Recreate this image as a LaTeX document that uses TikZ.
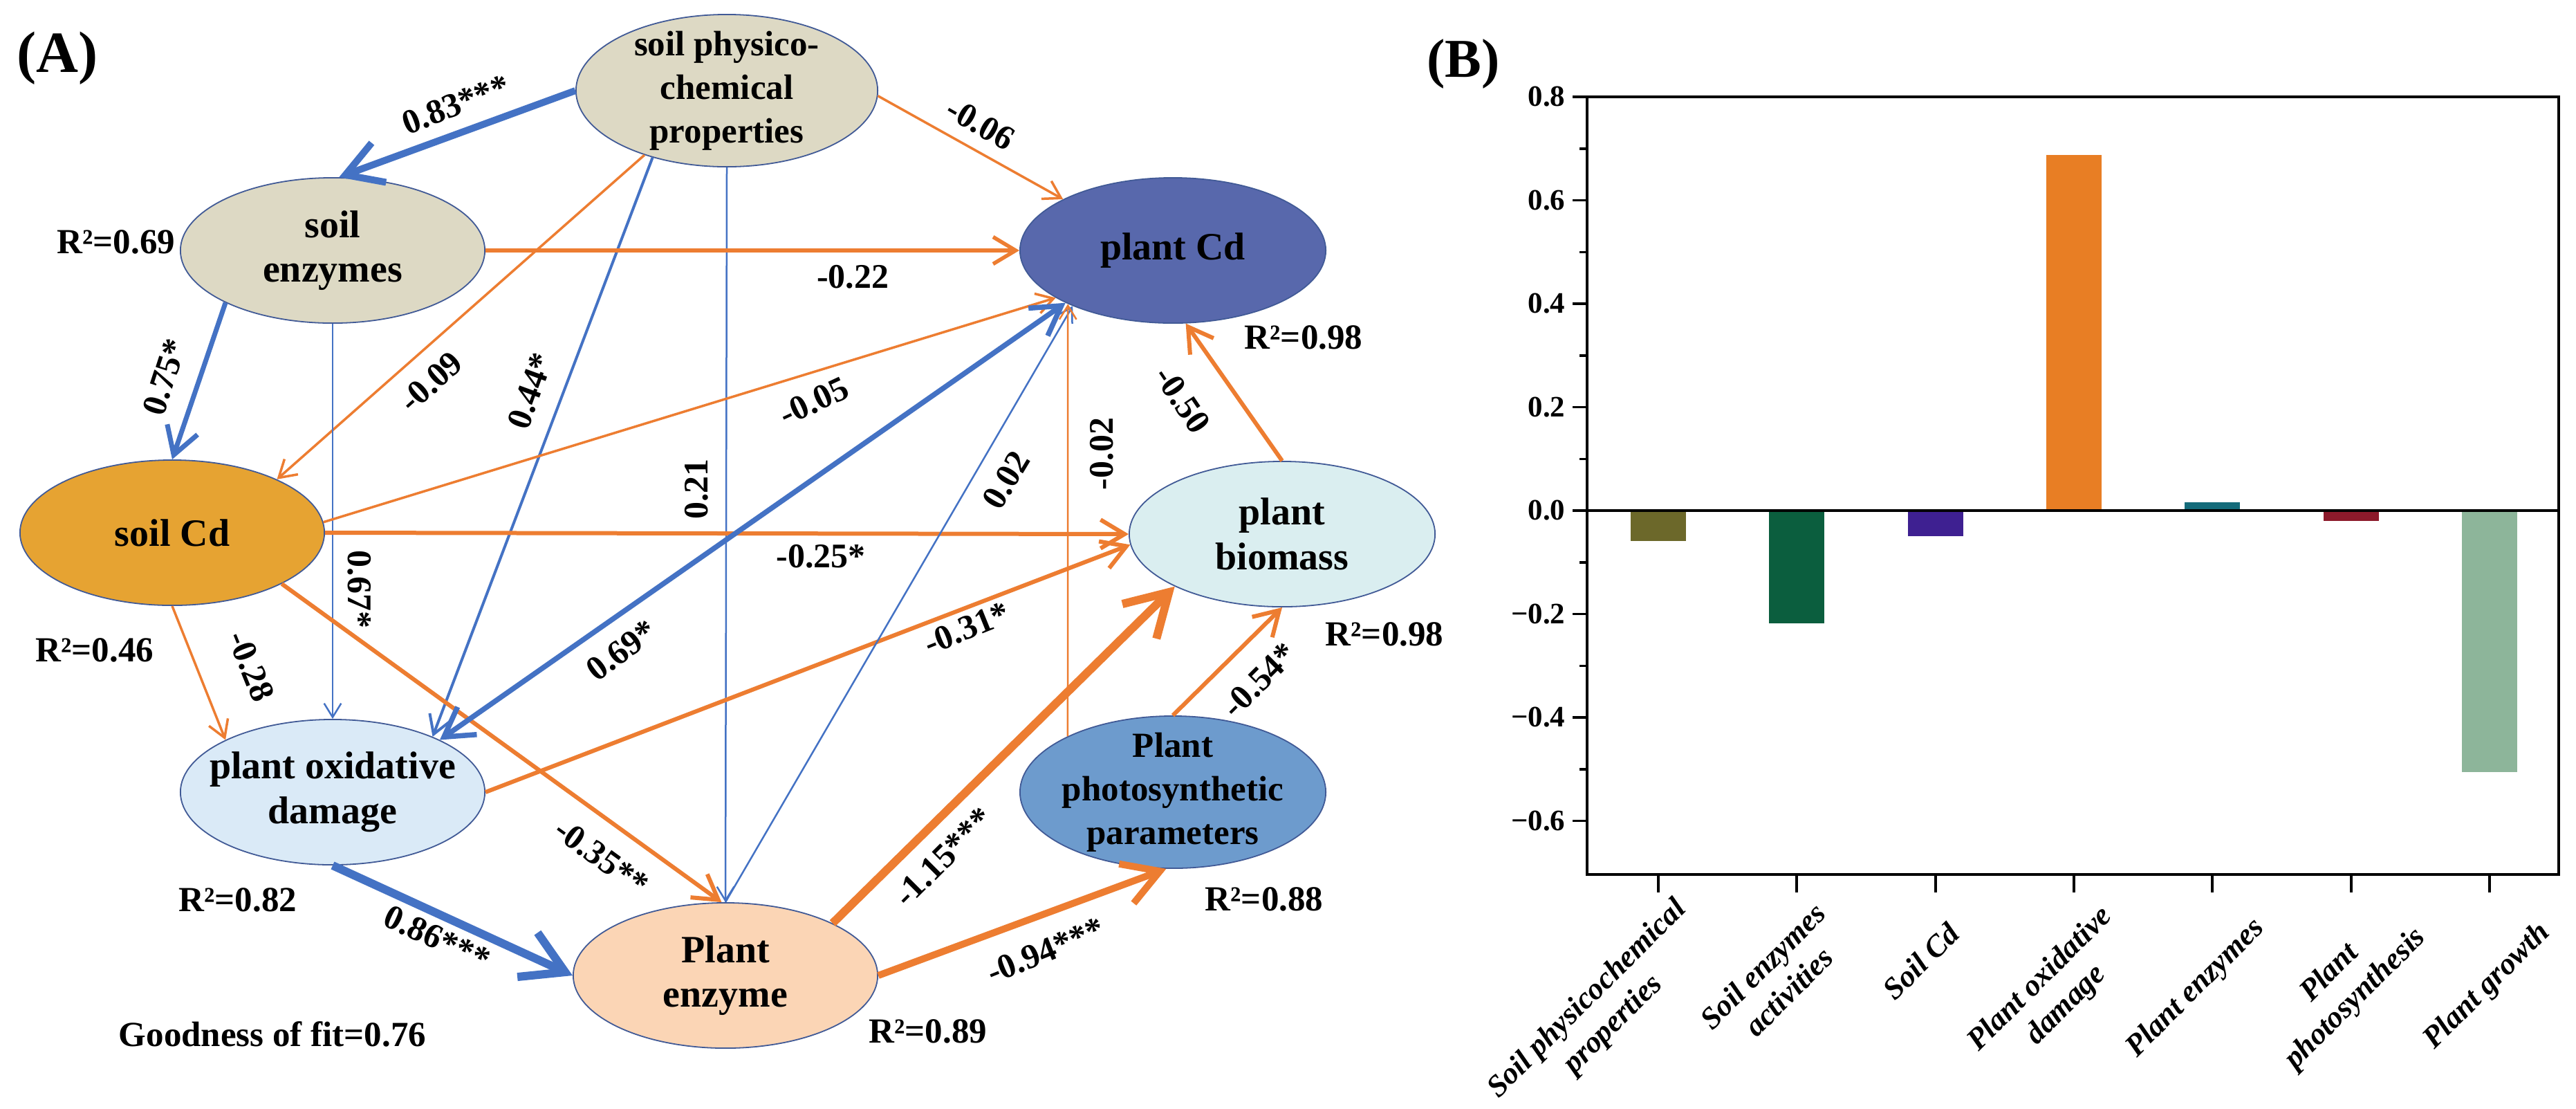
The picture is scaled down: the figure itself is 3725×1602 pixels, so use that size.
\documentclass[tikz,border=0pt]{standalone}
\usepackage{fontspec}
\setmainfont{Liberation Serif}
\usetikzlibrary{shapes.geometric,arrows.meta}
\definecolor{myblue}{RGB}{68,114,196}
\definecolor{myorange}{RGB}{237,125,49}
\definecolor{ellline}{RGB}{65,90,150}
\definecolor{tanfill}{RGB}{221,217,196}
\definecolor{pcdfill}{RGB}{88,104,172}
\definecolor{scdfill}{RGB}{230,163,50}
\definecolor{poxfill}{RGB}{218,234,247}
\definecolor{biofill}{RGB}{218,238,240}
\definecolor{photofill}{RGB}{109,155,205}
\definecolor{enzfill}{RGB}{251,213,181}
\definecolor{barA}{RGB}{108,104,42}
\definecolor{barB}{RGB}{11,94,62}
\definecolor{barC}{RGB}{62,32,145}
\definecolor{barD}{RGB}{232,126,36}
\definecolor{barE}{RGB}{20,107,122}
\definecolor{barF}{RGB}{140,26,43}
\definecolor{barG}{RGB}{141,181,154}
\begin{document}
\begin{tikzpicture}[x=0.01cm,y=-0.01cm,
  >={Straight Barb[length=2.7pt 4.2,width=3.6pt 4.8]},
  lw/.style={line width=#1*0.01cm},
  ell/.style={ellipse,draw=ellline,line width=0.018cm,inner xsep=-1.2cm,inner ysep=-0.6cm,
    minimum width=4.4cm,minimum height=2.1cm,align=center,
    font=\fontsize{15.9}{18.4}\selectfont\bfseries},
  ellsm/.style={font=\fontsize{14.5}{17.9}\selectfont\bfseries},
  blu/.style={draw=myblue,->},
  ora/.style={draw=myorange,->},
  lab/.style={font=\fontsize{14.2}{16}\selectfont\bfseries,inner sep=0pt},
  rsq/.style={font=\fontsize{14.5}{16}\selectfont\bfseries,inner sep=0pt},
  ytick/.style={font=\fontsize{12.2}{14}\selectfont\bfseries,inner sep=0pt,anchor=east},
  xlab/.style={font=\fontsize{12.6}{15}\selectfont\bfseries\itshape,inner sep=0pt,
    anchor=north east,rotate=45,align=center},
  axisline/.style={line width=0.04cm,black}
]
\useasboundingbox (0,0) rectangle (3725,1602);
\fill[white] (0,0) rectangle (3725,1602);

% ---------- panel A : nodes ----------
\node[font=\fontsize{24}{28}\selectfont\bfseries,inner sep=0pt] (A) at (83,84) {(A)};
\node[ell,ellsm,fill=tanfill,minimum width=4.36cm,minimum height=2.2cm] (phys) at (1051,131) {soil physico-\\chemical\\properties};
\node[ell,fill=tanfill] (senz) at (481,362) {soil\\enzymes};
\node[ell,fill=scdfill] (scd) at (249,770) {soil Cd};
\node[ell,fill=pcdfill,minimum width=4.42cm] (pcd) at (1696,362) {plant Cd};
\node[ell,fill=poxfill] (pox) at (481,1145) {plant oxidative\\damage};
\node[ell,fill=enzfill] (penz) at (1049,1410) {Plant\\enzyme};
\node[ell,fill=biofill,minimum width=4.42cm] (pbio) at (1854,772) {plant\\biomass};
\node[ell,ellsm,fill=photofill,minimum width=4.42cm,minimum height=2.2cm] (pphoto) at (1696,1145) {Plant\\photosynthetic\\parameters};

% ---------- panel A : connectors ----------
\draw[blu,lw=10] (phys.west) -- (senz.85);
\draw[ora,lw=3.5] (phys.-2) -- (pcd.155);
\draw[ora,lw=3.5] (phys.218) -- (scd.27);
\draw[blu,lw=4] (phys.222) -- (pox.29);
\draw[blu,lw=2.5] (phys.south) -- (penz.north);
\draw[ora,lw=5.5] (senz.east) -- (pcd.west);
\draw[blu,lw=7] (senz.206) -- (scd.north);
\draw[blu,lw=2.5] (senz.south) -- (pox.north);
\draw[ora,lw=3.5] (scd.4) -- (pcd.202);
\draw[ora,lw=6] (scd.east) -- (pbio.west);
\draw[ora,lw=3.5] (scd.south) -- (pox.154);
\draw[ora,lw=6] (scd.-25) -- (penz.93);
\draw[draw=myblue,<->,lw=7.5] (pox.26) -- (pcd.206);
\draw[ora,lw=6] (pox.east) -- (pbio.184);
\draw[blu,lw=12] (pox.south) -- (penz.west);
\draw[blu,lw=2.5] (penz.north) -- (pcd.209);
\draw[ora,lw=12] (penz.26) -- (pbio.206);
\draw[ora,lw=10] (penz.east) -- (pphoto.265);
\draw[ora,lw=6] (pphoto.north) -- (pbio.south);
\draw[ora,lw=2.5] (pphoto.152) -- (pcd.207);
\draw[ora,lw=6] (pbio.north) -- (pcd.-80);

% ---------- panel A : path labels ----------
\node[lab,rotate=21] (l083) at (659,151) {0.83***};
\node[lab,rotate=-30] (l006) at (1418,179) {-0.06};
\node[lab] (l022) at (1233,400) {-0.22};
\node[lab,rotate=72] (l075) at (238,545) {0.75*};
\node[lab,rotate=42] (l009) at (623,552) {-0.09};
\node[lab,rotate=70] (l044) at (767,565) {0.44*};
\node[lab,rotate=25] (l005) at (1177,580) {-0.05};
\node[lab,rotate=90] (l021) at (1007,707) {0.21};
\node[lab] (l025) at (1187,804) {-0.25*};
\node[lab,rotate=37] (l069) at (899,940) {0.69*};
\node[lab,rotate=-90] (l067) at (520,852) {0.67*};
\node[lab,rotate=-68] (l028) at (363,963) {-0.28};
\node[lab,rotate=-36] (l035) at (870,1239) {-0.35**};
\node[lab,rotate=-25] (l086) at (632,1356) {0.86***};
\node[lab,rotate=22] (l031) at (1398,908) {-0.31*};
\node[lab,rotate=59] (l002) at (1455,694) {0.02};
\node[lab,rotate=90] (lm002) at (1593,656) {-0.02};
\node[lab,rotate=-56] (l050) at (1710,578) {-0.50};
\node[lab,rotate=45] (l054) at (1821,983) {-0.54*};
\node[lab,rotate=45] (l115) at (1364,1239) {-1.15***};
\node[lab,rotate=22] (l094) at (1512,1374) {-0.94***};

% ---------- panel A : R2 labels ----------
\node[rsq] (r069) at (168,350) {R²=0.69};
\node[rsq] (r046) at (137,940) {R²=0.46};
\node[rsq] (r082) at (344,1301) {R²=0.82};
\node[rsq] (r098a) at (1885,488) {R²=0.98};
\node[rsq] (r098b) at (2002,917) {R²=0.98};
\node[rsq] (r088) at (1828,1300) {R²=0.88};
\node[rsq] (r089) at (1342,1491) {R²=0.89};
\node[rsq] (gof) at (394,1495) {Goodness of fit=0.76};

% ---------- panel B ----------
\node[font=\fontsize{22.5}{26}\selectfont\bfseries,inner sep=0pt] (B) at (2116,92) {(B)};
\foreach \x/\v/\c in {2398/-0.059/barA,2598/-0.218/barB,2799/-0.05/barC,2999/0.688/barD,3199/0.016/barE,3400/-0.02/barF,3600/-0.506/barG}{
  \fill[\c] (\x-40,738) rectangle (\x+40,{738-747.5*(\v)});
}
\draw[axisline] (2295,140) rectangle (3700,1264);
\draw[axisline] (2295,738) -- (3700,738);
\foreach \v/\t [count=\i] in {0.8/0.8,0.6/0.6,0.4/0.4,0.2/0.2,0/0.0,-0.2/−0.2,-0.4/−0.4,-0.6/−0.6}{
  \draw[line width=0.035cm] (2274,{738-747.5*(\v)}) -- (2295,{738-747.5*(\v)});
  \node[ytick] (yt\i) at (2264,{738-747.5*(\v)}) {\t};
}
\foreach \v in {0.7,0.5,0.3,0.1,-0.1,-0.3,-0.5}{
  \draw[line width=0.035cm] (2284,{738-747.5*(\v)}) -- (2295,{738-747.5*(\v)});
}
\foreach \x in {2398,2598,2799,2999,3199,3400,3600}{
  \draw[line width=0.035cm] (\x,1264) -- (\x,1290);
}
\node[xlab] (x1) at (2418,1293) {Soil physicochemical\\properties};
\node[xlab] (x2) at (2621,1301) {Soil enzymes\\activities};
\node[xlab] (x3) at (2814,1330) {Soil Cd};
\node[xlab] (x4) at (3034,1304) {Plant oxidative\\damage};
\node[xlab] (x5) at (3254,1321) {Plant enzymes};
\node[xlab] (x6) at (3450,1297) {Plant\\photosynthesis};
\node[xlab] (x7) at (3667,1327) {Plant growth};
\end{tikzpicture}
\end{document}
